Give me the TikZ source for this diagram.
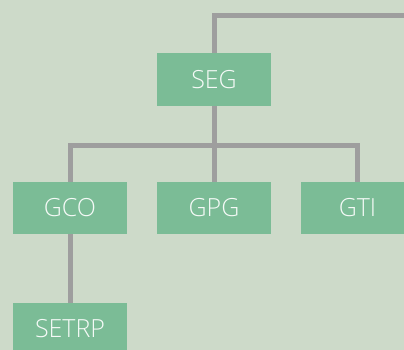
\documentclass[tikz,border=0pt]{standalone}
\usepackage{fontspec}
\setmainfont{Open Sans Light}
\definecolor{bg}{HTML}{CDDAC9}
\definecolor{boxg}{HTML}{7BBC96}
\definecolor{lineg}{HTML}{9E9E9E}
\begin{document}
\begin{tikzpicture}[x=1pt,y=-1pt,
  orgbox/.style={fill=boxg, minimum width=114pt, minimum height=52.5pt, inner sep=0pt,
    text=white!92!boxg, font=\fontsize{25}{25}\selectfont},
  link/.style={draw=lineg, line width=5pt, line join=miter}]
\fill[bg] (0,0) rectangle (404,350);
\useasboundingbox (0,0) rectangle (404,350);
\coordinate (off) at (420,15.5);
\coordinate (bus) at (214,145);
\node[orgbox] (seg) at (214,79.5) {SEG};
\node[orgbox] (gco) at (70,208) {GCO};
\node[orgbox] (gpg) at (214,208) {GPG};
\node[orgbox] (gti) at (357.5,208) {GTI};
\node[orgbox] (setrp) at (70,329) {SETRP};
\draw[link] (seg.north) |- (off);
\draw[link] (seg.south) -- (bus) -| (gco.north);
\draw[link] (bus) -| (gti.north);
\draw[link] (bus) -- (gpg.north);
\draw[link] (gco.south) -- (setrp.north);
\end{tikzpicture}
\end{document}
